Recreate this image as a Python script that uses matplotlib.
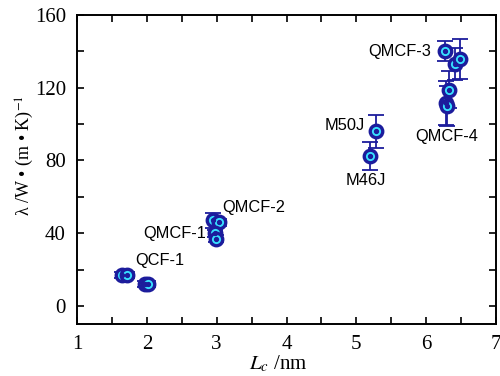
import matplotlib
matplotlib.use("Agg")
import matplotlib.pyplot as plt
from matplotlib.ticker import MultipleLocator

plt.rcParams["mathtext.fontset"] = "stix"

# data
lc = [1.65, 1.72, 1.97, 2.02, 2.95, 3.03, 2.98, 2.99, 5.20, 5.28, 6.27, 6.42, 6.49, 6.33, 6.28, 6.30]
lam = [17.0, 17.0, 12.0, 12.0, 47.0, 46.0, 40.0, 37.0, 82.5, 96.0, 140.0, 133.0, 136.0, 119.0, 111.5, 110.0]
err = [1.5, 1.5, 1.5, 1.5, 4.0, 2.0, 2.0, 2.0, 7.5, 9.0, 5.5, 9.0, 11.0, 10.0, 12.0, 11.0]

labels = ["QCF-1", "QMCF-1", "QMCF-2", "M46J", "M50J", "QMCF-3", "QMCF-4"]
label_xy = [(1.83, 25), (1.95, 40), (3.08, 54), (4.84, 69), (4.55, 99), (5.17, 140), (5.84, 93)]

navy = "#1c1c9c"
cyan = "#38e0ff"

fig = plt.figure(figsize=(5.0, 3.76), dpi=100)
ax = fig.add_axes([0.154, 0.138, 0.838, 0.822])

ax.errorbar(lc, lam, yerr=err, fmt="none", ecolor=navy, elinewidth=1.3,
            capsize=6, capthick=1.3, zorder=2)
ax.plot(lc, lam, "o", ms=9, mfc=cyan, mec=navy, mew=2.4, zorder=3)
ax.plot(lc, lam, "o", ms=2.8, mfc=navy, mec=navy, zorder=4)

for name, (x, y) in zip(labels, label_xy):
    ax.text(x, y, name, fontsize=11.8, family="Liberation Sans", color="black",
            va="center", ha="left")

ax.set_xlim(1, 7)
ax.set_ylim(-10, 160)
ax.xaxis.set_major_locator(MultipleLocator(1))
ax.xaxis.set_minor_locator(MultipleLocator(0.5))
ax.yaxis.set_major_locator(MultipleLocator(40))
ax.yaxis.set_minor_locator(MultipleLocator(20))
ax.tick_params(which="both", direction="in", top=True, right=True, width=1.2)
ax.tick_params(which="major", length=5, labelsize=15, pad=8)
ax.tick_params(which="minor", length=5)
for lab in ax.get_xticklabels() + ax.get_yticklabels():
    lab.set_family("Liberation Serif")
for sp in ax.spines.values():
    sp.set_linewidth(1.4)

ax.set_xlabel(r"$L_c$ /nm", fontsize=15, family="Liberation Serif")
ax.xaxis.set_label_coords(0.48, -0.095, transform=ax.transAxes)
ax.set_ylabel("λ /W • (m • K)$^{-1}$", fontsize=13,
              family="Liberation Serif")
ax.yaxis.set_label_coords(-0.097, 0.545, transform=ax.transAxes)

fig.savefig("out.png", dpi=100)
